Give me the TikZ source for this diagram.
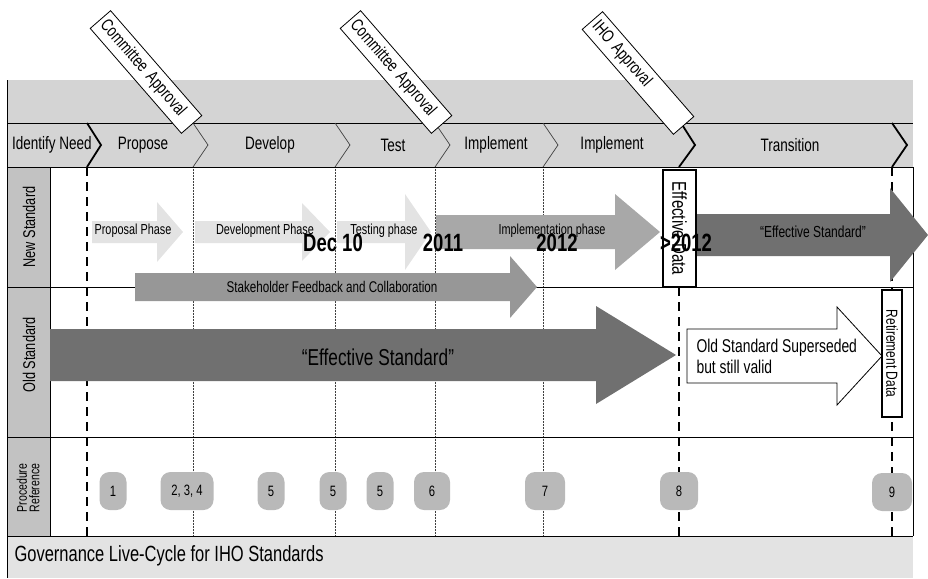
\documentclass[tikz,border=0pt]{standalone}
\usepackage{fontspec}
\setmainfont[FakeStretch=0.75]{Liberation Sans}
\newfontfamily\yearfont[FakeStretch=0.74]{Liberation Sans}
\usepackage{xcolor}
\usepackage{tikz}
\definecolor{bandgray}{gray}{0.83}
\definecolor{colgray}{gray}{0.76}
\definecolor{palegray}{gray}{0.89}
\definecolor{midgray}{gray}{0.66}
\definecolor{darkgray}{gray}{0.44}
\usetikzlibrary{positioning, calc}

% block arrow: style, shaft start, head base, tip, centre y, half shaft, half head
\newcommand{\phasearrow}[7]{%
  \path[#1] (#2,#5-#6) -- (#3,#5-#6) -- (#3,#5-#7) -- (#4,#5) -- (#3,#5+#7) -- (#3,#5+#6) -- (#2,#5+#6) -- cycle;}

\begin{document}
\begin{tikzpicture}[
    x=1pt, y=-1pt,
    rowline/.style={draw=black, line width=0.8pt},
    chev/.style={draw=black!75, line width=0.7pt},
    chevbold/.style={draw=black, line width=1.8pt},
    milestone/.style={draw=black, line width=2.2pt, dash pattern=on 9pt off 6pt},
    gridline/.style={draw=black!75, line width=0.5pt, densely dotted},
    stagelabel/.style={font=\fontsize{18}{20}\selectfont},
    rowlabel/.style={rotate=90, align=center, font=\fontsize{17}{17}\selectfont},
    phaselabel/.style={font=\fontsize{14.5}{16}\selectfont},
    yearlabel/.style={font=\yearfont\bfseries\fontsize{25}{27}\selectfont},
    tag/.style={draw, fill=white, line width=0.8pt, rotate=-49, minimum height=27pt, text width=131pt, inner xsep=4pt, align=left, font=\fontsize{17.5}{19}\selectfont},
    datebox/.style={draw, fill=white, line width=1.8pt, rotate=-90, inner sep=0pt},
    bubble/.style={fill=gray!55, rounded corners=10pt, minimum height=38pt, minimum width=27pt, inner sep=2pt, font=\fontsize{15}{17}\selectfont}
]
    \useasboundingbox (0,0) rectangle (928,578);

    % Background bands
    \fill[bandgray] (7,80) rectangle (913,167);
    \fill[colgray] (7,167) rectangle (50,536);
    \fill[palegray] (7,536) rectangle (913,578);

    % Dotted stage dividers
    \foreach \gx in {193, 335, 435, 543}
        \draw[gridline] (\gx,167) -- (\gx,536);

    % Row lines
    \draw[rowline] (7,123) -- (913,123);
    \draw[rowline] (7,167) -- (913,167);
    \draw[rowline] (7,287) -- (913,287);
    \draw[rowline] (7,437) -- (913,437);
    \draw[rowline] (7,536) -- (913,536);
    \draw[rowline] (913,167) -- (913,536);
    \draw[rowline] (7,80) -- (7,578);
    \draw[rowline] (50,167) -- (50,536);

    % Stage chevrons
    \draw[chevbold] (87,123) -- (101,145) -- (87,167);
    \foreach \cx in {193, 335, 435, 543}
        \draw[chev] (\cx,123) -- (\cx+15,145) -- (\cx,167);
    \draw[chevbold] (681,123) -- (695,145) -- (679,167);
    \draw[chevbold] (892,123) -- (907,145) -- (892,167);

    % Stage names
    \node[stagelabel] (need) at (52,145) {Identify Need};
    \node[stagelabel] (propose) at (143,145) {Propose};
    \node[stagelabel] (develop) at (270,145) {Develop};
    \node[stagelabel] (test) at (393,145) {Test};
    \node[stagelabel] (impl1) at (496,145) {Implement};
    \node[stagelabel] (impl2) at (612,145) {Implement};
    \node[stagelabel] (transition) at (790,145) {Transition};

    % Milestones
    \draw[milestone] (87,167) -- (87,536);
    \draw[milestone] (679,287) -- (679,536);
    \draw[milestone] (892,167) -- (892,536);

    % New standard arrows
    \phasearrow{fill=palegray}{92}{157}{183}{232}{11}{30}
    \phasearrow{fill=palegray}{195}{302}{330}{232}{11}{29}
    \phasearrow{fill=palegray}{337}{405}{431}{232}{11}{38}
    \phasearrow{fill=midgray}{436}{615}{660}{232}{17}{38}
    \phasearrow{fill=darkgray}{690}{890}{928}{235}{21}{47}
    \phasearrow{fill=midgray!90!black}{135}{510}{537}{287}{14}{31}

    % Old standard arrows
    \phasearrow{fill=darkgray}{50}{596}{676}{355}{26}{49}
    \phasearrow{draw=black, line width=0.8pt, fill=white}{687}{837}{882}{356}{27}{49}

    % Row names
    \node[rowlabel] (rnew) at (29,227) {New Standard};
    \node[rowlabel] (rold) at (29,355) {Old Standard};
    \node[rowlabel, font=\fontsize{14}{12.5}\selectfont] (rproc) at (28,488) {Procedure\\Reference};

    % Phase texts
    \node[phaselabel] (pprop) at (133,231) {Proposal Phase};
    \node[phaselabel] (pdev) at (265,231) {Development Phase};
    \node[phaselabel] (ptest) at (384,231) {Testing phase};
    \node[phaselabel] (pimpl) at (552,231) {Implementation phase};
    \node[phaselabel, font=\fontsize{16}{18}\selectfont] (pnew) at (813,232) {“Effective Standard”};
    \node[phaselabel, font=\fontsize{15.5}{17}\selectfont] (pfeed) at (332,287) {Stakeholder Feedback and Collaboration};
    \node[font=\fontsize{23}{25}\selectfont] (pold) at (378,357) {“Effective Standard”};
    \node[anchor=west, align=left, font=\fontsize{18.5}{21}\selectfont] (psup) at (693,356) {Old Standard Superseded\\but still valid};

    % Effective and retirement dates
    \node[datebox, minimum width=117pt, minimum height=33pt, font=\fontsize{20}{22}\selectfont] (effdate) at (679.5,228.5) {Effective Data};
    \node[datebox, minimum width=127pt, minimum height=20pt, font=\fontsize{16}{18}\selectfont] (retdate) at (892,353.5) {Retirement Data};

    % Approval tags
    \node[tag] (appr1) at (146,72) {Committee Approval};
    \node[tag] (appr2) at (396,72) {Committee Approval};
    \node[tag] (appr3) at (638,73) {IHO Approval};

    % Years
    \node[yearlabel] (ydec) at (333,243) {Dec 10};
    \node[yearlabel] (y11) at (443,243) {2011};
    \node[yearlabel] (y12) at (557,243) {2012};
    \node[yearlabel] (ylate) at (686,243) {>2012};

    % Procedure references
    \node[bubble] (ref1) at (113,491) {1};
    \node[bubble, minimum width=53pt] (ref2) at (187,491) {2, 3, 4};
    \node[bubble] (ref3) at (271,491) {5};
    \node[bubble] (ref4) at (333,491) {5};
    \node[bubble] (ref5) at (380,491) {5};
    \node[bubble, minimum width=36pt] (ref6) at (432,491) {6};
    \node[bubble, minimum width=40pt] (ref7) at (545,491) {7};
    \node[bubble, minimum width=38pt] (ref8) at (679,491) {8};
    \node[bubble, minimum width=40pt] (ref9) at (892,492) {9};

    % Caption
    \node[anchor=west, font=\fontsize{22}{24}\selectfont] (caption) at (11,556) {Governance Live-Cycle for IHO Standards};

\end{tikzpicture}
\end{document}
